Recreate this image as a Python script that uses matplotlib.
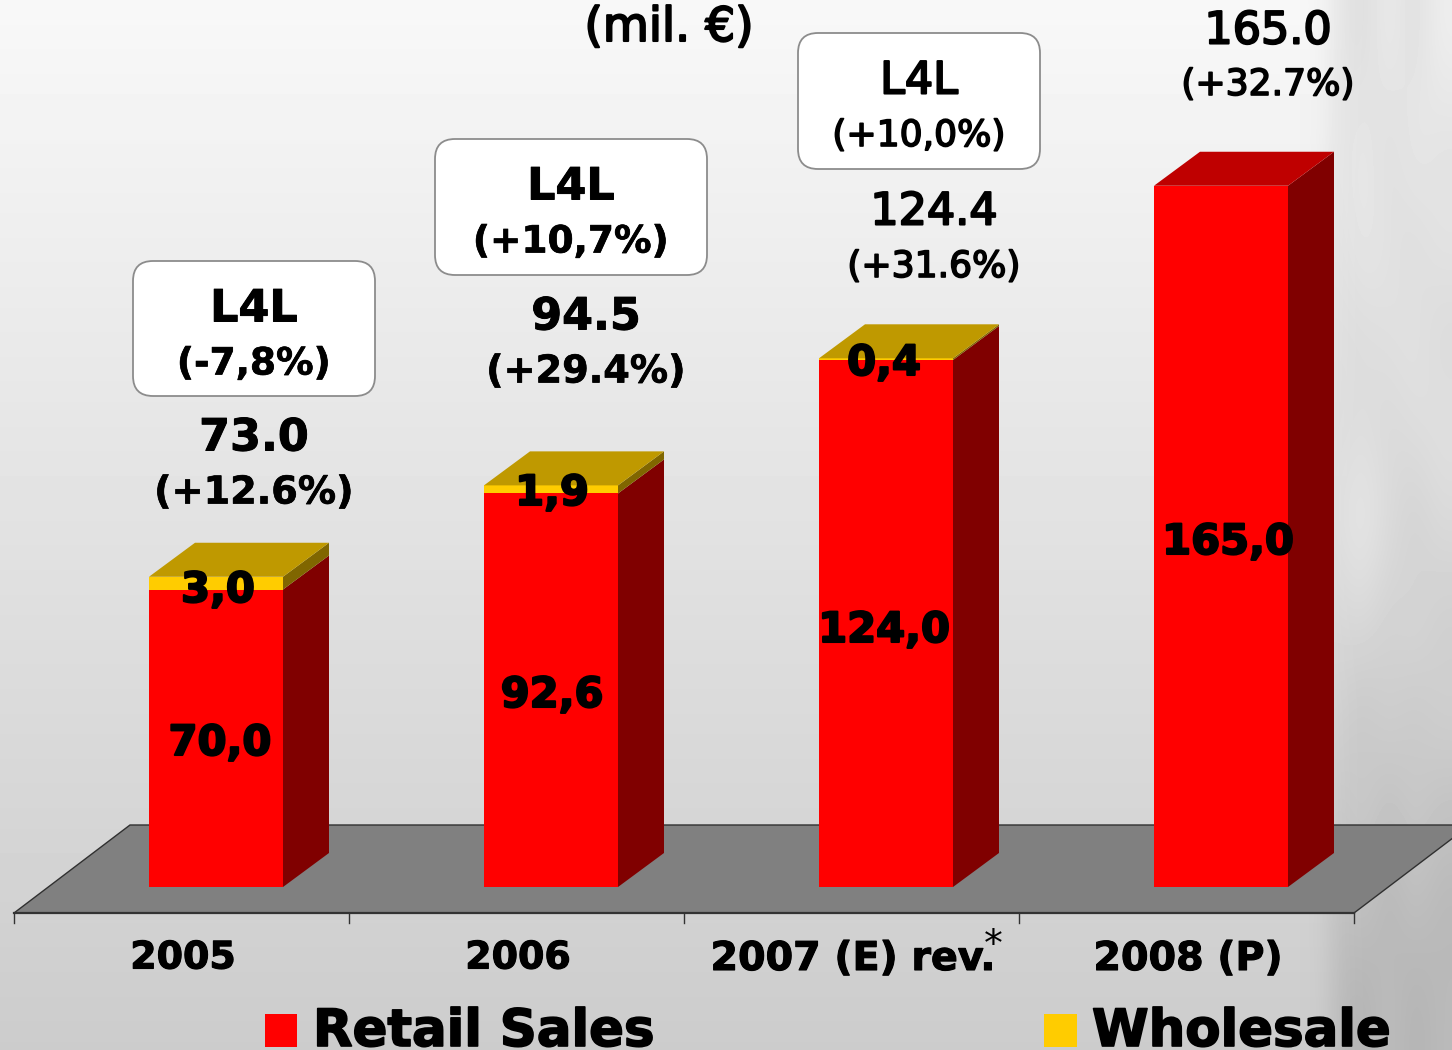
import numpy as np
import matplotlib
matplotlib.use("Agg")
import matplotlib.pyplot as plt
import matplotlib.patheffects as pe
from matplotlib.patches import FancyBboxPatch, Polygon, Rectangle

# ---- Data ----
years = ["2005", "2006", "2007 (E) rev.", "2008 (P)"]
retail = [70.0, 92.6, 124.0, 165.0]
wholesale = [3.0, 1.9, 0.4, 0.0]
retail_labels = ["70,0", "92,6", "124,0", "165,0"]
wholesale_labels = ["3,0", "1,9", "0,4", ""]
totals = ["73.0", "94.5", "124.4", "165.0"]
growth = ["(+12.6%)", "(+29.4%)", "(+31.6%)", "(+32.7%)"]
l4l = ["(-7,8%)", "(+10,7%)", "(+10,0%)"]

# ---- Layout, pixels of the 1452x1050 picture ----
W, H = 1452, 1050
PX_X = 335.0   # pixels per category
PX_Y = 4.25    # pixels per mil. euro
AXIS_LEFT = 14
BASE = 887     # front foot of the bars
FLOOR_FRONT = 913
FLOOR_BACK = 825
DEPTH_X = 46
DEPTH_Y = 34

fig = plt.figure(figsize=(W / 100, H / 100), dpi=100)

# ---- Background: vertical fade plus the grey photo on the right ----
bg = fig.add_axes([0, 0, 1, 1], zorder=0)
bg.axis("off")
fade = np.linspace(248, 204, 256).reshape(-1, 1)
bg.imshow(fade, cmap="gray", vmin=0, vmax=255, aspect="auto", extent=(0, W, H, 0))
photo = np.array([
    [236, 226, 220, 236, 222, 238],
    [236, 224, 234, 220, 234, 226],
    [224, 222, 232, 226, 220, 228],
    [222, 220, 220, 224, 226, 218],
    [220, 218, 222, 216, 222, 224],
    [218, 224, 232, 220, 208, 218],
    [212, 214, 218, 208, 216, 206],
    [208, 206, 198, 208, 200, 208],
    [204, 194, 204, 192, 202, 194],
    [198, 186, 194, 180, 192, 184],
    [198, 182, 178, 190, 178, 186],
])
alpha = np.tile(np.array([0.0, 0.8, 1, 1, 1, 1]), (photo.shape[0], 1))
bg.imshow(photo, cmap="gray", vmin=0, vmax=255, alpha=alpha, aspect="auto",
          interpolation="bicubic", extent=(1300, W, H, 0))
bg.set_xlim(0, W)
bg.set_ylim(H, 0)

# ---- Chart axes: x in categories, y in mil. euro ----
ax = fig.add_axes([0, 0, 1, 1], zorder=1)
ax.patch.set_alpha(0)
ax.axis("off")
ax.set_xlim(-0.5 - AXIS_LEFT / PX_X, -0.5 + (W - AXIS_LEFT) / PX_X)
ax.set_ylim((BASE - H) / PX_Y, BASE / PX_Y)

dx = DEPTH_X / PX_X
dy = DEPTH_Y / PX_Y
bar_w = 0.4
shift = 34.5 / PX_X
x = np.arange(len(years))
cx = x + shift

# floor
y_front = (BASE - FLOOR_FRONT) / PX_Y
y_back = (BASE - FLOOR_BACK) / PX_Y
x_l, x_r = -0.5, len(years) - 0.5
skew = 116 / PX_X
ax.add_patch(Polygon([(x_l, y_front), (x_r, y_front), (x_r + skew, y_back), (x_l + skew, y_back)],
                     closed=True, facecolor="#808080", edgecolor="#303030", linewidth=1.0))
ax.plot([x_l, x_r], [y_front, y_front], color="#333333", linewidth=1.6)
for t in np.arange(len(years) + 1) - 0.5:
    ax.plot([t, t], [y_front, y_front - 10 / PX_Y], color="#333333", linewidth=1)

# bars, front faces from the library, side and top faces from the same values
ax.bar(cx, retail, bar_w, color="#FF0000", zorder=3)
ax.bar(cx, wholesale, bar_w, bottom=retail, color="#FFCC00", zorder=3)
for c, r, w in zip(cx, retail, wholesale):
    right = c + bar_w / 2
    left = c - bar_w / 2
    top = r + w
    ax.add_patch(Polygon([(right, 0), (right + dx, dy), (right + dx, r + dy), (right, r)],
                         closed=True, facecolor="#800000", edgecolor="none", zorder=3))
    if w > 0:
        ax.add_patch(Polygon([(right, r), (right + dx, r + dy), (right + dx, top + dy), (right, top)],
                             closed=True, facecolor="#806600", edgecolor="none", zorder=3))
    top_col = "#BF9900" if w > 0 else "#BF0000"
    ax.add_patch(Polygon([(left, top), (right, top), (right + dx, top + dy), (left + dx, top + dy)],
                         closed=True, facecolor=top_col, edgecolor="none", zorder=3))

# ---- Overlay in picture pixels for boxes and labels ----
ov = fig.add_axes([0, 0, 1, 1], zorder=2)
ov.patch.set_alpha(0)
ov.axis("off")
ov.set_xlim(0, W)
ov.set_ylim(H, 0)

FONT = "DejaVu Sans"


def label(px, py, s, size, bold=True, ha="center", stroke=0.7):
    weight = "bold" if bold else "normal"
    return ov.text(px, py - 1.5, s, fontsize=size, fontweight=weight, family=FONT, color="black",
                   ha=ha, va="center_baseline",
                   path_effects=[pe.withStroke(linewidth=stroke, foreground="black")])


label(669, 25, "(mil. €)", 34, bold=False, stroke=1.5)

# L4L boxes
box_pos = [(133, 261, 242, 135), (435, 139, 272, 136), (798, 33, 242, 136)]
box_bold = [True, True, False]
for (bx, by, bw, bh), pct, b in zip(box_pos, l4l, box_bold):
    ov.add_patch(FancyBboxPatch((bx + 20, by + 20), bw - 40, bh - 40,
                                boxstyle="round,pad=20,rounding_size=20",
                                facecolor="white", edgecolor="#8c8c8c", linewidth=1.3))
    mid = bx + bw / 2
    label(mid, by + 45, "L4L", 32, bold=b, stroke=0.7 if b else 1.5)
    label(mid, by + 101, pct, 27 if b else 26, bold=b, stroke=0.5 if b else 1.2)

# totals and growth above the bars
total_x = [254, 586, 934, 1268]
total_y = [435, 314, 209, 28]
growth_y = [491, 370, 265, 83]
total_bold = [True, True, False, False]
for tx, ty, gy, tot, gr, b in zip(total_x, total_y, growth_y, totals, growth, total_bold):
    label(tx, ty, tot, 32, bold=b, stroke=0.7 if b else 1.5)
    label(tx, gy, gr, 27.5 if b else 26, bold=b, stroke=0.5 if b else 1.2)

# values on the bars
retail_lab_pos = [(220, 740), (552, 692), (884, 627), (1228, 539)]
whole_lab_pos = [(218, 587), (552, 490), (884, 360)]
for (px, py), s in zip(retail_lab_pos, retail_labels):
    label(px, py, s, 30, stroke=1.5)
for (px, py), s in zip(whole_lab_pos, wholesale_labels):
    label(px, py, s, 30, stroke=1.5)

# category names
tick_sizes = [27.3, 27.3, 28.5, 28.5]
for t, s, fs in zip(x, years, tick_sizes):
    px = AXIS_LEFT + (t + 0.5) * PX_X + 1.5
    label(px, 956, s, fs, stroke=0.8)
ov.text(993, 946, "*", fontsize=27, family=FONT, ha="center", va="center", color="black")

# legend
ov.add_patch(Rectangle((265, 1014), 32, 33, facecolor="#FF0000", edgecolor="none"))
ov.add_patch(Rectangle((1044, 1014), 33, 33, facecolor="#FFCC00", edgecolor="none"))
label(313, 1028, "Retail Sales", 37, ha="left", stroke=1.2)
label(1092, 1028, "Wholesale", 37, ha="left", stroke=1.2)

fig.savefig("out.png", dpi=100)
